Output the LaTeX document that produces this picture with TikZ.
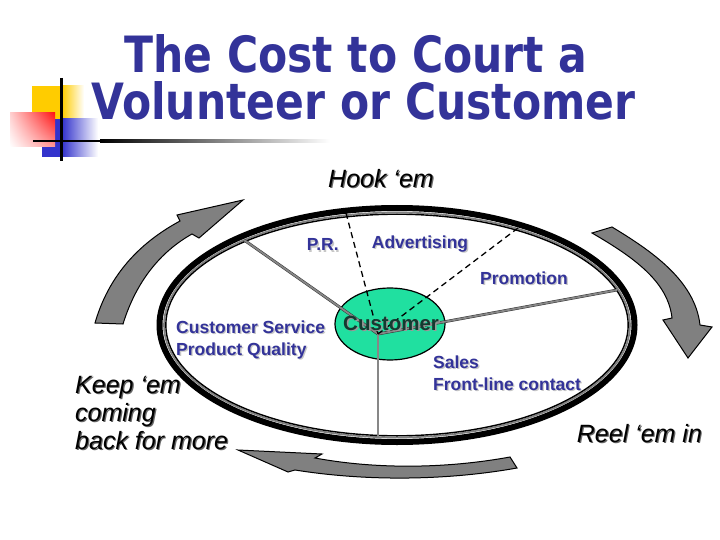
\documentclass[tikz,border=0pt]{standalone}
\usepackage{fontspec}
\setmainfont{Liberation Sans}
\newfontfamily\titlefont{DejaVu Sans}
\usetikzlibrary{shapes.geometric,shadings}
\definecolor{navy}{RGB}{51,51,153}
\definecolor{custgreen}{RGB}{32,224,160}
\definecolor{custtext}{RGB}{20,58,48}
\definecolor{arrowgray}{RGB}{128,128,128}
\definecolor{spokegray}{RGB}{135,135,135}
\definecolor{logoyellow}{RGB}{255,204,0}
\definecolor{logoblue}{RGB}{51,51,204}
\definecolor{logored}{RGB}{255,20,20}
\begin{document}
\begin{tikzpicture}[x=1pt,y=-1pt,
  titletxt/.style={text=navy, font=\titlefont\bfseries\fontsize{50}{50}\selectfont, inner sep=0pt, anchor=base},
  bluetxt/.style={text=navy, font=\bfseries\fontsize{17.5}{21}\selectfont, inner sep=0pt, anchor=base west},
  shadowblue/.style={bluetxt, text=black!22},
  ital/.style={text=black, font=\itshape\fontsize{25}{28}\selectfont, inner sep=0pt, anchor=base west},
  shadowital/.style={ital, text=black!60},
  arrowblock/.style={fill=arrowgray, draw=black, line width=1pt, line join=miter},
  spoke/.style={draw=black!80, line width=0.5pt, double=spokegray, double distance=1.8pt},
  dspoke/.style={draw=black, line width=1.3pt, dash pattern=on 6pt off 4pt},
]
\useasboundingbox (0,0) rectangle (720,540);
\fill[white] (0,0) rectangle (720,540);

% ---- logo ----
\fill[logoyellow] (32,86) rectangle (62,119);
\shade[left color=logoyellow, right color=white] (62,86) rectangle (84,119);
\fill[logoblue] (42,119) rectangle (62,157);
\shade[left color=logoblue, right color=white] (62,119) rectangle (98,157);
\shade[upper left=logored!20, upper right=logored, lower left=white, lower right=logored!45] (10,113) rectangle (55,147);
\draw[line width=2.5pt] (61.7,78) -- (61.7,161);
\fill[black] (33,139.8) rectangle (100,142.2);
\shade[left color=black, right color=white] (100,139.8) rectangle (330,142.2);

% ---- title ----
\node[titletxt] (t1) at (356,73) {\scalebox{0.85}[1]{The Cost to Court a}};
\node[titletxt] (t2) at (363.5,120) {\scalebox{0.85}[1]{Volunteer or Customer}};

% ---- block arrows ----
\path[arrowblock] (95,323) .. controls (106,285) and (130,248) .. (180,221)
  -- (177,215) -- (243,200) -- (199,238) -- (192,234)
  .. controls (160,252) and (136,282) .. (123,324) -- cycle;
\path[arrowblock] (592,233) -- (612,227) .. controls (650,250) and (695,280) .. (700,325)
  -- (712,327) -- (688,358) -- (663,320) -- (672,318)
  .. controls (668,282) and (635,258) .. (592,233) -- cycle;
\path[arrowblock] (238,450) -- (322,454) -- (315,458) .. controls (380,470) and (450,468) .. (510,457)
  -- (517,468) .. controls (450,480) and (370,482) .. (295,470) -- (288,472) -- cycle;

% ---- big ellipse ----
\draw[line width=6pt] (397,325) ellipse [x radius=237.5pt, y radius=117pt];
\draw[line width=1.7pt, color=black!50] (397,325) ellipse [x radius=233pt, y radius=112.5pt];
\draw[line width=1.4pt] (397,325) ellipse [x radius=231.2pt, y radius=110.8pt];

% ---- customer ellipse ----
\node[ellipse, fill=custgreen, draw=black, line width=1.2pt, minimum width=110pt, minimum height=72pt, inner sep=0pt] (cust) at (390,324) {};

% ---- spokes ----
\coordinate (hub) at (378,334);
\coordinate (ul) at (244,240);
\coordinate (top) at (346,213);
\coordinate (ur) at (518,228);
\coordinate (rt) at (617,290);
\coordinate (bot) at (378,437);
\draw[spoke] (hub) -- (ul);
\draw[spoke] (hub) -- (rt);
\draw[spoke] (hub) -- (bot);
\draw[dspoke] (top) -- (hub);
\draw[dspoke] (ur) -- (hub);

% ---- customer label ----
\node[inner sep=0pt, anchor=base west, text=black!40, font=\bfseries\fontsize{20.5}{24}\selectfont] (custs) at (344.5,331.5) {Customer};
\node[inner sep=0pt, anchor=base west, text=custtext, font=\bfseries\fontsize{20.5}{24}\selectfont] (custl) at (343,330) {Customer};

% ---- blue labels ----
\node[shadowblue] (prs) at (308,252) {P.R.};
\node[bluetxt] (pr) at (306.7,250.7) {P.R.};
\node[shadowblue] (advs) at (373,249.6) {Advertising};
\node[bluetxt] (adv) at (371.7,248.3) {Advertising};
\node[shadowblue] (proms) at (481.3,285.8) {Promotion};
\node[bluetxt] (prom) at (480,284.5) {Promotion};
\node[shadowblue] (css) at (177.3,334.6) {Customer Service};
\node[bluetxt] (cs) at (176,333.3) {Customer Service};
\node[shadowblue] (pqs) at (177.3,356.3) {Product Quality};
\node[bluetxt] (pq) at (176,355) {Product Quality};
\node[shadowblue] (saless) at (434.3,369.8) {Sales};
\node[bluetxt] (sales) at (433,368.5) {Sales};
\node[shadowblue] (flcs) at (434.3,391.8) {Front-line contact};
\node[bluetxt] (flc) at (433,390.5) {Front-line contact};

% ---- italic labels ----
\node[shadowital] (hooks) at (329.2,188.5) {Hook ‘em};
\node[ital] (hook) at (328,187.3) {Hook ‘em};
\node[shadowital] (keep1s) at (76.2,394.5) {Keep ‘em};
\node[ital] (keep1) at (75,393.3) {Keep ‘em};
\node[shadowital] (keep2s) at (76.2,422.9) {coming};
\node[ital] (keep2) at (75,421.7) {coming};
\node[shadowital] (keep3s) at (76.2,450.5) {back for more};
\node[ital] (keep3) at (75,449.3) {back for more};
\node[shadowital] (reels) at (577.9,443.9) {Reel ‘em in};
\node[ital] (reel) at (576.7,442.7) {Reel ‘em in};
\end{tikzpicture}
\end{document}
